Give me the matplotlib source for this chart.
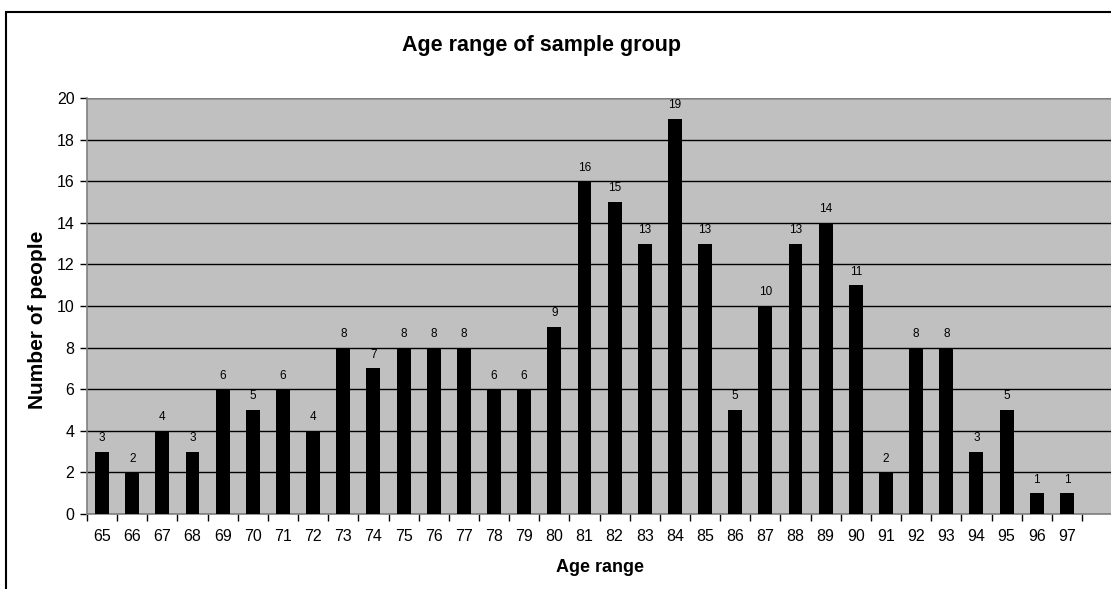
import matplotlib.pyplot as plt
from matplotlib.patches import Rectangle

# Age distribution of the sample group
ages = list(range(65, 98))
counts = [3, 2, 4, 3, 6, 5, 6, 4, 8, 7, 8, 8, 8, 6, 6, 9, 16, 15, 13, 19,
          13, 5, 10, 13, 14, 11, 2, 8, 8, 3, 5, 1, 1]
y_ticks = list(range(0, 21, 2))

plt.rcParams['font.family'] = ['Liberation Sans', 'DejaVu Sans']

fig = plt.figure(figsize=(11.11, 5.89), dpi=100)
W, H = 1111, 589

# plot area in pixels: left 87, bottom 514, top 98, runs off the right edge
ax = fig.add_axes([87 / W, (H - 514) / H, (W - 87) / W, 416 / H])
ax.set_facecolor('#c0c0c0')

x = list(range(len(ages)))
ax.bar(x, counts, width=0.46, color='black', zorder=3)
for xi, c in zip(x, counts):
    ax.annotate(str(c), (xi, c), xytext=(0, 5.5), textcoords='offset points',
                ha='center', va='bottom', fontsize=8.5, zorder=4)

ax.set_ylim(0, 20)
ax.set_xlim(-0.5, -0.5 + (W - 87) / 30.15)
ax.set_yticks(y_ticks)
ax.yaxis.grid(True, color='black', linewidth=1, zorder=1)
ax.set_axisbelow(True)

# category labels centred, tick marks between categories
ax.set_xticks(x)
ax.set_xticklabels([str(a) for a in ages], fontsize=11.5)
ax.set_xticks([i - 0.5 for i in range(len(ages) + 1)], minor=True)
ax.tick_params(axis='x', which='major', length=0, pad=11)
ax.tick_params(axis='x', which='minor', length=5, width=1, color='black', direction='out')
ax.tick_params(axis='y', length=5, width=1, labelsize=11.5, direction='out', pad=4)

for side in ['top', 'right']:
    ax.spines[side].set_visible(False)
ax.spines['left'].set_color('#808080')
ax.spines['bottom'].set_color('#808080')
ax.spines['left'].set_linewidth(1.2)
ax.spines['bottom'].set_linewidth(1.2)
ax.axhline(20, color='#808080', linewidth=1.5, zorder=2)

ax.set_xlabel('Age range', fontsize=13, fontweight='bold', va='center')
ax.set_ylabel('Number of people', fontsize=15, fontweight='bold', va='center')
ax.xaxis.set_label_coords((600 - 87) / (W - 87), -(568 - 514) / 416)
ax.yaxis.set_label_coords(-(87 - 38) / (W - 87), (514 - 320) / 416)

fig.text(542 / W, 1 - 46 / H, 'Age range of sample group', ha='center', va='center',
         fontsize=15.5, fontweight='bold')

# outer chart border, clipped by the image on the right and bottom
fig.patches.append(Rectangle((6 / W, -0.05), 1.1, 1 - 12 / H + 0.05, transform=fig.transFigure,
                             fill=False, edgecolor='black', linewidth=1.5, clip_on=False))

fig.savefig('out.png', dpi=100)
